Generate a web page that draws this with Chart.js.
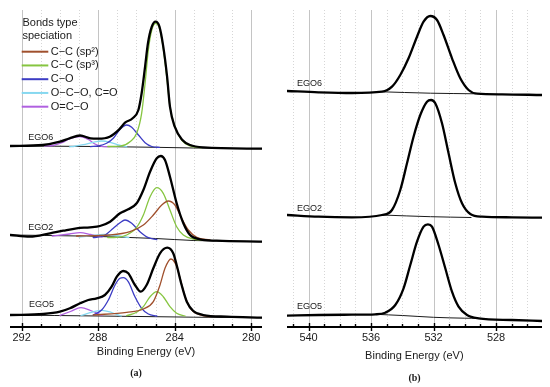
<!DOCTYPE html>
<html><head><meta charset="utf-8">
<script src="https://cdn.jsdelivr.net/npm/chart.js@4"></script>
<style>
html,body{margin:0;padding:0;background:#fff;}
#wrap{position:relative;width:550px;height:387px;overflow:hidden;background:#fff;}
#ca{position:absolute;left:0;top:0;}
#cb{position:absolute;left:275px;top:0;}
</style></head><body>
<div id="wrap"><canvas id="ca" width="270" height="387"></canvas><canvas id="cb" width="275" height="387"></canvas></div>
<script>
// ---------- data (binding energy eV, intensity a.u.) ----------
const sampleNames = ['EGO6', 'EGO2', 'EGO5'];
const componentNames = ['C\u2212C (sp\u00B2)', 'C\u2212C (sp\u00B3)', 'C\u2212O', 'O\u2212C\u2212O, C=O', 'O=C\u2212O'];
const componentColors = ['#a0502d', '#86c540', '#3c3cc4', '#86d8f0', '#b060e0'];
const xTickLabelsC1s = [292, 288, 284, 280];
const xTickLabelsO1s = [540, 536, 532, 528];

// C 1s, EGO6
const C1s_EGO6_env = [[292.6,181],[290.9,182],[290,185.3],[289.5,188.7],[288.95,191.5],[288.4,188.7],[288,188.3],[287.4,190.3],[286.9,197.7],[286.6,204.3],[286.2,208.7],[285.9,217],[285.73,233.7],[285.55,260.3],[285.4,283.7],[285.2,300.3],[285.0,305.3],[284.8,300.3],[284.6,280.3],[284.4,250.3],[284.25,220.3],[284.0,200.3],[283.6,187],[283.2,182],[282.5,179.6],[279.44,178.3]];
const C1s_EGO6_bg = [[292.6,181],[288,180.5],[285,179.7],[283,179],[279.44,178.3]];
const C1s_EGO6_Csp3 = [[287.5,180.5],[286.86,180.8],[286.34,185.3],[285.99,193.7],[285.73,213.7],[285.55,243.7],[285.38,277],[285.2,297],[285.0,303.7],[284.77,297],[284.6,278.7],[284.42,250.3],[284.25,220.3],[283.99,200.3],[283.64,187],[283.2,181],[282.6,179.3]];
const C1s_EGO6_CO = [[288.4,180.4],[288.0,181],[287.56,183.7],[287.21,188.7],[286.86,197.7],[286.51,202],[286.25,199.7],[285.9,192],[285.55,184.3],[285.2,180.5],[284.8,179.6]];
const C1s_EGO6_OCO = [[289.5,180.2],[289.3,180.5],[288.78,182.3],[288.26,184.7],[287.82,186],[287.38,184.7],[286.95,182],[286.51,180.2]];
const C1s_EGO6_OCdO = [[290.8,181],[290.35,181.5],[289.9,184.3],[289.48,188.3],[288.95,190.3],[288.52,187.7],[288.17,183],[287.82,180.6],[287.4,180.3]];

// C 1s, EGO2
const C1s_EGO2_env = [[292.6,92],[291.57,90.3],[290.52,93.7],[289.83,96.3],[289.13,98.7],[288.43,99.7],[287.91,101],[287.38,105.3],[286.86,113.7],[286.43,117.7],[285.99,123.7],[285.64,137],[285.29,155.3],[284.94,168.7],[284.73,171],[284.51,167],[284.25,150.3],[283.9,123.7],[283.55,103.7],[283.2,92],[282.68,87.7],[281.81,86.3],[279.44,85.3]];
const C1s_EGO2_bg = [[292.6,92],[289,91],[287,90],[285,88.5],[283,86.5],[279.44,85.3]];
const C1s_EGO2_Csp2 = [[289.13,91],[287.38,92],[286.34,95.3],[285.64,102],[285.12,112],[284.68,122],[284.34,126],[283.99,122],[283.64,108.7],[283.29,97],[282.85,89.7],[282.16,87]];
const C1s_EGO2_Csp3 = [[287.5,89.5],[287.03,89.7],[286.51,92],[285.99,99.7],[285.64,112],[285.29,130.3],[284.94,139.3],[284.6,133.7],[284.25,117],[283.9,100.3],[283.55,92],[283.03,88],[282.51,87]];
const C1s_EGO2_CO = [[288.26,89.5],[287.73,91],[287.21,98.7],[286.86,104.3],[286.6,107],[286.25,103.7],[285.82,95.3],[285.38,89.3],[284.94,87.5]];
const C1s_EGO2_OCO = [[289,90],[288.3,91.5],[287.7,92.5],[287.1,91.5],[286.4,89.5]];
const C1s_EGO2_OCdO = [[290.4,91],[289.5,93],[288.95,94.3],[288.4,92.5],[287.8,90]];

// C 1s, EGO5
const C1s_EGO5_env = [[292.6,12],[290.87,13],[290,15.3],[289.48,18.7],[288.95,23.7],[288.52,27],[288.08,28.7],[287.65,32],[287.3,40.3],[287.03,50.3],[286.69,56],[286.43,53.7],[286.08,42],[285.78,35.3],[285.47,42],[285.12,58.7],[284.77,73.7],[284.39,79.3],[284.08,73.7],[283.9,62],[283.64,42],[283.37,25.3],[283.03,16],[282.51,12],[281.28,10.3],[279.44,9.3]];
const C1s_EGO5_bg = [[292.6,12],[288,11],[285,10.3],[283,9.8],[279.44,9.3]];
const C1s_EGO5_Csp2 = [[288.26,12],[286.51,14.7],[285.64,18],[285.12,25.3],[284.77,42],[284.51,58.7],[284.2,68],[283.93,62],[283.72,48.7],[283.46,30.3],[283.11,17],[282.68,12],[282.16,10.3]];
const C1s_EGO5_Csp3 = [[286.51,11.3],[285.99,14.7],[285.64,20.3],[285.29,30.3],[284.94,35.3],[284.6,30.3],[284.25,20.3],[283.9,13.7],[283.46,11]];
const C1s_EGO5_CO = [[288.26,12],[287.82,17],[287.47,27],[287.12,42],[286.86,48.7],[286.69,49.3],[286.43,45.3],[286.08,30.3],[285.73,18.7],[285.38,13],[284.94,11]];
const C1s_EGO5_OCO = [[288.9,11.5],[288.3,15],[287.8,16.7],[287.3,14.5],[286.8,11]];
const C1s_EGO5_OCdO = [[290.0,11.7],[289.45,15.5],[288.9,19.3],[288.4,16.5],[287.8,11.5]];

// O 1s
const O1s_EGO6_env = [[541.38,236],[539.36,234.7],[537.22,234],[535.3,235.3],[534.66,240.3],[534.13,252],[533.6,268.7],[533.06,290.3],[532.64,305.3],[532.21,311],[531.78,307],[531.36,292],[530.82,268.7],[530.29,248.7],[529.76,237],[529.22,233.3],[527.62,232.7],[525.06,232]];
const O1s_EGO6_bg = [[535.5,235.3],[532.2,233.8],[529.3,233.2]];
const O1s_EGO2_env = [[541.38,112],[539.36,110.3],[537.22,109.7],[535.3,112],[534.66,117],[534.13,137],[533.7,163.7],[533.28,190.3],[532.85,212],[532.42,225.3],[532.16,227],[531.89,223.7],[531.46,203.7],[531.04,173.7],[530.61,143.7],[530.18,123.7],[529.65,113],[528.9,110.3],[526.98,109.7],[525.06,109.3]];
const O1s_EGO2_bg = [[535.3,112],[532.2,110.3],[529.6,109.5]];
const O1s_EGO5_env = [[541.38,11.3],[539.36,12],[537.22,12.3],[535.73,12.7],[535.09,14.3],[534.45,22],[533.92,38.7],[533.49,62],[533.06,85.3],[532.64,100.3],[532.36,102.7],[532.1,100.3],[531.68,82],[531.25,58.7],[530.82,35.3],[530.4,20.3],[529.86,12],[529.12,8.7],[526.98,7],[525.06,6]];
const O1s_EGO5_bg = [[535.73,12.7],[534,11.5],[532,9.7],[530,8.8],[529.12,8.7]];

// sample label anchors (eV, a.u.)
const C1s_labelAnchors = [[291.65,189],[291.65,99],[291.62,22.5]];
const O1s_labelAnchors = [[540.74,243.7],[540.74,118.7],[540.74,20.3]];

// ---------- build ----------
const FONT = '"Liberation Sans", Arial, Helvetica, sans-serif';
const C1s = [
  {env: C1s_EGO6_env, bg: C1s_EGO6_bg, comps: [null, C1s_EGO6_Csp3, C1s_EGO6_CO, C1s_EGO6_OCO, C1s_EGO6_OCdO]},
  {env: C1s_EGO2_env, bg: C1s_EGO2_bg, comps: [C1s_EGO2_Csp2, C1s_EGO2_Csp3, C1s_EGO2_CO, C1s_EGO2_OCO, C1s_EGO2_OCdO]},
  {env: C1s_EGO5_env, bg: C1s_EGO5_bg, comps: [C1s_EGO5_Csp2, C1s_EGO5_Csp3, C1s_EGO5_CO, C1s_EGO5_OCO, C1s_EGO5_OCdO]}
];
const O1s = [
  {env: O1s_EGO6_env, bg: O1s_EGO6_bg, comps: []},
  {env: O1s_EGO2_env, bg: O1s_EGO2_bg, comps: []},
  {env: O1s_EGO5_env, bg: O1s_EGO5_bg, comps: []}
];
const toXY = a => a.map(p => ({x: p[0], y: p[1]}));
const base = {pointRadius: 0, fill: false, cubicInterpolationMode: 'monotone', borderJoinStyle: 'round', borderCapStyle: 'round'};

function buildDatasets(samples) {
  const ds = [];
  samples.forEach((s, si) => {
    ds.push(Object.assign({label: sampleNames[si] + ' background', data: toXY(s.bg), borderColor: '#1a1a1a', borderWidth: 1, order: 2}, base));
    s.comps.forEach((c, ci) => {
      if (!c) return;
      ds.push(Object.assign({label: componentNames[ci], data: toXY(c), borderColor: componentColors[ci], borderWidth: 1.3, order: 1}, base));
    });
    ds.push(Object.assign({label: sampleNames[si], data: toXY(s.env), borderColor: '#000', borderWidth: 2.3, order: 0}, base));
  });
  return ds;
}

const decorPlugin = {
  id: 'decor',
  beforeDatasetsDraw(chart, args, o) {
    const {ctx, chartArea: a, scales: {x}} = chart;
    ctx.save();
    ctx.lineWidth = 1;
    for (let v = Math.ceil(x.min); v <= Math.floor(x.max); v++) {
      const px = Math.round(x.getPixelForValue(v)) + 0.5;
      const major = o.majorTicks.includes(v);
      ctx.strokeStyle = major ? '#c4c4c4' : '#d6d6d6';
      ctx.setLineDash(major ? [] : [1, 2]);
      ctx.beginPath(); ctx.moveTo(px, a.top); ctx.lineTo(px, a.bottom); ctx.stroke();
    }
    ctx.restore();
  },
  afterDatasetsDraw(chart, args, o) {
    const {ctx, chartArea: a, scales: {x, y}} = chart;
    ctx.save();
    ctx.setLineDash([]);
    ctx.strokeStyle = '#000';
    ctx.lineWidth = 2;
    ctx.beginPath(); ctx.moveTo(a.left, a.bottom); ctx.lineTo(a.right, a.bottom); ctx.stroke();
    ctx.lineWidth = 1.4;
    for (let v = Math.ceil(x.min); v <= Math.floor(x.max); v++) {
      const px = Math.round(x.getPixelForValue(v)) + 0.5;
      const major = o.majorTicks.includes(v);
      ctx.beginPath();
      ctx.moveTo(px, a.bottom - (major ? 4 : 3));
      ctx.lineTo(px, a.bottom + (major ? 4 : 0));
      ctx.stroke();
    }
    ctx.fillStyle = '#1a1a1a';
    ctx.textBaseline = 'middle';
    ctx.textAlign = 'left';
    ctx.font = '9px ' + FONT;
    o.labels.forEach((p, i) => ctx.fillText(sampleNames[i], x.getPixelForValue(p[0]), y.getPixelForValue(p[1])));
    ctx.textAlign = 'center';
    ctx.font = '11px ' + FONT;
    ctx.fillText('Binding Energy (eV)', x.getPixelForValue(o.titleX), o.titleY);
    ctx.font = 'bold 10px "Liberation Serif", "Times New Roman", serif';
    ctx.fillText(o.tag, (a.left + a.right) / 2, o.tagY);
    if (o.legend) {
      ctx.textAlign = 'left';
      ctx.font = '11px ' + FONT;
      ctx.fillText('Bonds type', 22.5, 23);
      ctx.fillText('speciation', 22.5, 36);
      componentNames.forEach((n, i) => {
        const yy = 51.7 + i * 13.75;
        ctx.strokeStyle = componentColors[i];
        ctx.lineWidth = 2;
        ctx.beginPath(); ctx.moveTo(21.7, yy); ctx.lineTo(48.3, yy); ctx.stroke();
        ctx.fillText(n, 50.7, yy);
      });
    }
    ctx.restore();
  }
};

function makeOptions(xmin, xmax, tickLabels, pad, decor) {
  return {
    responsive: false, animation: false, events: [],
    layout: {padding: pad},
    plugins: {legend: {display: false}, tooltip: {enabled: false}, decor: decor},
    scales: {
      x: {
        type: 'linear', reverse: true, min: xmin, max: xmax,
        grid: {display: false, drawTicks: false}, border: {display: false},
        ticks: {
          stepSize: 1, includeBounds: false, autoSkip: false, maxRotation: 0, minRotation: 0, padding: 4,
          color: '#1a1a1a', font: {family: FONT, size: 11},
          callback: v => (Math.abs(v - Math.round(v)) < 1e-6 && tickLabels.includes(Math.round(v))) ? String(Math.round(v)) : ''
        },
        afterFit: s => { s.height = 60; }
      },
      y: {display: false, min: 0, max: 317}
    }
  };
}

new Chart(document.getElementById('ca'), {
  type: 'line',
  data: {datasets: buildDatasets(C1s)},
  options: makeOptions(279.44, 292.61, xTickLabelsC1s, {left: 10, right: 8, top: 10, bottom: 0},
    {majorTicks: xTickLabelsC1s, labels: C1s_labelAnchors, titleX: 285.5, titleY: 352, tag: '(a)', tagY: 373, legend: true}),
  plugins: [decorPlugin]
});
new Chart(document.getElementById('cb'), {
  type: 'line',
  data: {datasets: buildDatasets(O1s)},
  options: makeOptions(525.06, 541.38, xTickLabelsO1s, {left: 12, right: 8, top: 10, bottom: 0},
    {majorTicks: xTickLabelsO1s, labels: O1s_labelAnchors, titleX: 533.23, titleY: 356, tag: '(b)', tagY: 378, legend: false}),
  plugins: [decorPlugin]
});
</script>
</body></html>
